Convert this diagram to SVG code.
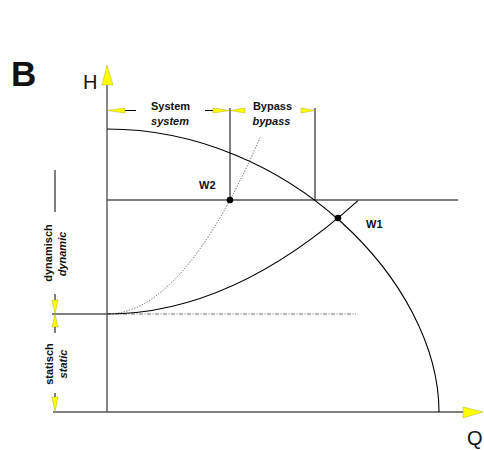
<svg xmlns="http://www.w3.org/2000/svg" width="484" height="450" viewBox="0 0 484 450">
<style>
.ax{stroke:#555;stroke-width:1.4;fill:none}
.crv{stroke:#000;stroke-width:1.1;fill:none}
.thin{stroke:#000;stroke-width:1;fill:none}
.dot{stroke:#444;stroke-width:0.9;fill:none;stroke-dasharray:1.2 1.6}
.dd{stroke:#666;stroke-width:0.9;fill:none;stroke-dasharray:4 1.5 1 1.5}
.ar{fill:#ffff00;stroke:#9a9a00;stroke-width:0.4}
.lb{font-family:"Liberation Sans",Arial,sans-serif;font-weight:bold;font-size:11px;fill:#111}
.it{font-style:italic}
.ttl{font-family:"Liberation Sans",Arial,sans-serif;fill:#111}
</style>
<rect width="484" height="450" fill="#fff"/>
<g id="title"><text class="ttl" x="11" y="86" font-size="35" font-weight="bold">B</text></g>
<g id="axes">
<line class="ax" x1="107" y1="80" x2="107" y2="412"/>
<line class="ax" x1="53" y1="412" x2="466" y2="412"/>
<polygon class="ar" points="107,65 102,85 113,85"/>
<polygon class="ar" points="483,412 463,407 463,418"/>
<text class="ttl" x="83" y="89" font-size="20">H</text>
<text class="ttl" x="467" y="445" font-size="20">Q</text>
</g>
<g id="connectors">
<line class="ax" x1="107" y1="200" x2="458" y2="200"/>
<line class="ax" x1="52" y1="314" x2="107" y2="314"/>
<line class="dd" x1="107" y1="314" x2="356" y2="314"/>
<path class="crv" d="M107,129 C288,129 439,282 439,412"/>
<path class="crv" d="M107,314 Q232.5,314 358,200.6"/>
<path class="dot" d="M107,314 Q183.5,314 260,137.6"/>
<line class="thin" x1="230" y1="108" x2="230" y2="200"/>
<line class="thin" x1="315" y1="108" x2="315" y2="200"/>
</g>
<g id="dim-top">
<polygon class="ar" points="107,110.5 125,108 125,113"/>
<line class="thin" x1="125" y1="110.5" x2="136" y2="110.5"/>
<line class="thin" x1="205" y1="110.5" x2="213" y2="110.5"/>
<polygon class="ar" points="230,110.5 213,108 213,113"/>
<polygon class="ar" points="230,110.5 245,108 245,113"/>
<polygon class="ar" points="315,110.5 301,108 301,113"/>
<text class="lb" x="170.5" y="110" text-anchor="middle">System</text>
<text class="lb it" x="170" y="125" text-anchor="middle">system</text>
<text class="lb" x="272.5" y="110" text-anchor="middle">Bypass</text>
<text class="lb it" x="271.5" y="125" text-anchor="middle">bypass</text>
</g>
<g id="dim-left">
<line class="thin" x1="55" y1="170" x2="55" y2="212"/>
<line class="thin" x1="55" y1="294" x2="55" y2="300"/>
<polygon class="ar" points="55,314 52,300 58,300"/>
<polygon class="ar" points="55,314 52,327 58,327"/>
<line class="thin" x1="55" y1="327" x2="55" y2="333"/>
<line class="thin" x1="55" y1="393" x2="55" y2="397"/>
<polygon class="ar" points="55,412 52,397 58,397"/>
<text class="lb" font-size="11.5" transform="translate(52,253) rotate(-90)" text-anchor="middle">dynamisch</text>
<text class="lb it" font-size="11.5" transform="translate(66,254) rotate(-90)" text-anchor="middle">dynamic</text>
<text class="lb" font-size="12" transform="translate(53,364) rotate(-90)" text-anchor="middle">statisch</text>
<text class="lb it" font-size="12" transform="translate(67,364) rotate(-90)" text-anchor="middle">static</text>
</g>
<g id="W2">
<circle cx="230" cy="200" r="3.3" fill="#000"/>
<text class="lb" font-size="14" x="199" y="189">W2</text>
</g>
<g id="W1">
<circle cx="338" cy="218" r="3.3" fill="#000"/>
<text class="lb" font-size="14" x="366" y="228">W1</text>
</g>
</svg>
